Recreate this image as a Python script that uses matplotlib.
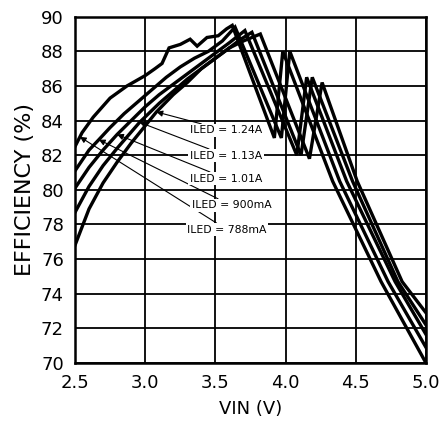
import matplotlib
matplotlib.use("Agg")
import matplotlib.pyplot as plt
import numpy as np

plt.rcParams['font.family'] = ['DejaVu Sans']

# ---- data ----
labels = ["ILED = 788mA", "ILED = 900mA", "ILED = 1.01A", "ILED = 1.13A", "ILED = 1.24A"]

vin_788 = [2.5, 2.55, 2.63, 2.75, 2.87, 3.0, 3.07, 3.12, 3.17, 3.25, 3.32, 3.37, 3.44, 3.52, 3.58, 3.62,
           3.92, 3.98, 4.335, 4.68, 5.0]
eff_788 = [82.5, 83.3, 84.2, 85.3, 86.0, 86.6, 87.0, 87.3, 88.2, 88.4, 88.7, 88.3, 88.8, 88.9, 89.3, 89.5,
           83.0, 88.0, 80.5, 74.7, 70.0]

vin_900 = [2.5, 2.6, 2.67, 2.75, 2.85, 2.95, 3.05, 3.15, 3.25, 3.35, 3.45, 3.55, 3.64,
           3.97, 4.03, 4.385, 4.73, 5.0]
eff_900 = [81.1, 82.3, 82.9, 83.6, 84.4, 85.1, 85.8, 86.5, 87.1, 87.6, 88.0, 88.6, 89.4,
           83.0, 88.0, 80.5, 74.7, 70.9]

vin_101 = [2.5, 2.6, 2.7, 2.8, 2.9, 3.0, 3.1, 3.2, 3.3, 3.4, 3.5, 3.6, 3.71,
           4.08, 4.15, 4.435, 4.78, 5.0]
eff_101 = [80.1, 81.3, 82.3, 83.2, 84.0, 84.8, 85.5, 86.1, 86.7, 87.3, 87.9, 88.5, 89.2,
           82.0, 86.5, 80.5, 74.7, 71.65]

vin_113 = [2.5, 2.6, 2.7, 2.8, 2.96, 3.1, 3.2, 3.3, 3.4, 3.5, 3.6, 3.68, 3.76,
           4.11, 4.19, 4.477, 4.8, 5.0]
eff_113 = [78.7, 80.2, 81.4, 82.4, 83.9, 85.0, 85.7, 86.4, 87.0, 87.6, 88.2, 88.7, 89.1,
           82.0, 86.5, 80.5, 74.7, 72.2]

vin_124 = [2.5, 2.6, 2.7, 2.8, 2.9, 3.0, 3.08, 3.2, 3.3, 3.4, 3.5, 3.6, 3.7, 3.82,
           4.17, 4.26, 4.51, 4.83, 5.0]
eff_124 = [76.8, 78.9, 80.4, 81.6, 82.7, 83.7, 84.5, 85.5, 86.2, 87.0, 87.6, 88.2, 88.6, 89.0,
           81.8, 86.2, 80.5, 74.7, 72.9]

# arrow tip VIN positions and label anchor positions
tip_vin = [2.535, 2.67, 2.80, 2.96, 3.08]
label_vin = [3.30, 3.33, 3.32, 3.32, 3.32]
label_eff = [77.7, 79.1, 80.65, 81.98, 83.43]

xticks = [2.5, 3.0, 3.5, 4.0, 4.5, 5.0]
yticks = list(range(70, 91, 2))

curves = [(vin_788, eff_788), (vin_900, eff_900), (vin_101, eff_101),
          (vin_113, eff_113), (vin_124, eff_124)]

fig = plt.figure(figsize=(4.43, 4.23), dpi=100)
ax = fig.add_axes([0.1693, 0.1418, 0.7923, 0.8187])

for v, e in curves:
    ax.plot(v, e, color='black', lw=2.4, solid_joinstyle='miter', zorder=3)

ax.set_xlim(2.5, 5.0)
ax.set_ylim(70, 90)
ax.set_xticks(xticks)
ax.set_xticklabels([f"{t:.1f}" for t in xticks])
ax.set_yticks(yticks)
ax.set_yticklabels([str(t) for t in yticks])
ax.grid(True, color='black', lw=1.3, zorder=1)
ax.tick_params(length=0, labelsize=13, pad=8)
for s in ax.spines.values():
    s.set_linewidth(1.8)
    s.set_zorder(4)

for (v, e), lab, tv, lx, ly in zip(curves, labels, tip_vin, label_vin, label_eff):
    te = np.interp(tv, v[:15], e[:15])
    ax.annotate(lab, xy=(tv, te), xytext=(lx, ly), textcoords='data',
                ha='left', va='center', fontsize=7.8, zorder=5,
                bbox=dict(boxstyle='square,pad=0.15', fc='white', ec='none'),
                arrowprops=dict(arrowstyle='-|>', lw=0.8, color='black',
                                shrinkA=0, shrinkB=0, mutation_scale=9))

ax.set_xlabel("VIN (V)", fontsize=13, labelpad=6)
ax.set_ylabel("EFFICIENCY (%)", fontsize=16, labelpad=4)

fig.savefig("out.png", dpi=100)
